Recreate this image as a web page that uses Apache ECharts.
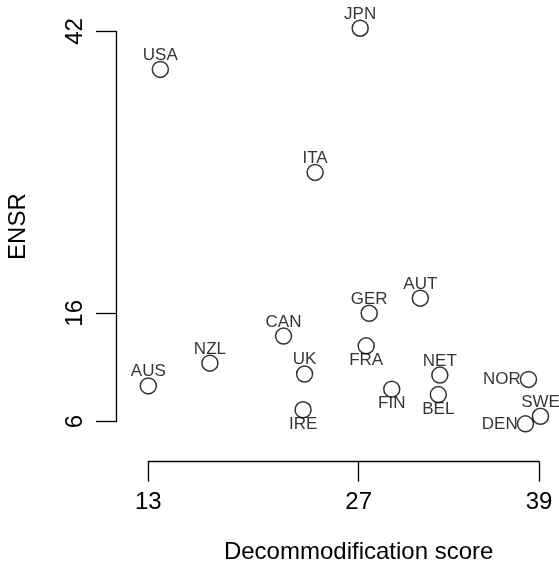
<!DOCTYPE html>
<html><head><meta charset="utf-8">
<script src="https://cdn.jsdelivr.net/npm/echarts@6/dist/echarts.min.js"></script>
<style>html,body{margin:0;padding:0;background:#fff}#c{width:559px;height:565px}</style>
</head><body><div id="c"></div>
<script>
const countries = ['USA','JPN','ITA','AUS','NZL','CAN','UK','IRE','AUT','GER','FRA','NET','FIN','BEL','NOR','SWE','DEN'];
const decommodification = [13.8, 27.1, 24.1, 13.0, 17.1, 22.0, 23.4, 23.3, 31.1, 27.7, 27.5, 32.4, 29.2, 32.3, 38.3, 39.1, 38.1];
const ensr = [38.5, 42.3, 29.0, 9.3, 11.4, 13.9, 10.4, 7.1, 17.4, 16.0, 13.0, 10.3, 9.0, 8.5, 9.9, 6.5, 5.8];
const xTicks = [13, 27, 39];
const yTicks = [6, 16, 42];
const belowLabels = ['IRE', 'FRA', 'FIN', 'BEL'];
const leftLabels = ['NOR', 'DEN'];

const font = '"Liberation Sans", Arial, Helvetica, sans-serif';
const chart = echarts.init(document.getElementById('c'), null, {renderer: 'canvas'});
const data = countries.map((c, i) => {
  let pos = 'top', dist = -3;
  if (belowLabels.includes(c)) { pos = 'bottom'; }
  if (leftLabels.includes(c)) { pos = 'left'; dist = -1; }
  return {name: c, value: [decommodification[i], ensr[i]], label: {position: pos, distance: dist}};
});
const lineStyle = {color: '#000', width: 1.3};
const option = {
  animation: false,
  grid: {left: 148.3, right: 20, top: 31.5, bottom: 143.3, containLabel: false, outerBoundsMode: 'none'},
  xAxis: {
    type: 'value', min: 13, max: 39, offset: 40,
    name: 'Decommodification score', nameLocation: 'middle', nameGap: 78.5,
    nameTextStyle: {fontSize: 24, fontFamily: font, color: '#000', padding: [0, 0, 0, 30]},
    axisLine: {show: true, onZero: false, lineStyle: lineStyle},
    axisTick: {show: true, length: 20, customValues: xTicks, lineStyle: lineStyle},
    axisLabel: {customValues: xTicks, margin: 29, fontSize: 24, fontFamily: font, color: '#000'},
    splitLine: {show: false}
  },
  yAxis: {
    type: 'value', min: 6, max: 42, offset: 32.3,
    name: 'ENSR', nameLocation: 'middle', nameGap: 86,
    nameTextStyle: {fontSize: 24, fontFamily: font, color: '#000'},
    axisLine: {show: true, onZero: false, lineStyle: lineStyle},
    axisTick: {show: true, length: 20, customValues: yTicks, lineStyle: lineStyle},
    axisLabel: {customValues: yTicks, margin: 29, rotate: 90, fontSize: 24, fontFamily: font, color: '#000'},
    splitLine: {show: false}
  },
  series: [{
    type: 'scatter', clip: false, symbol: 'circle', symbolSize: 16,
    itemStyle: {color: 'rgba(0,0,0,0)', borderColor: '#000', borderWidth: 1.5},
    label: {show: true, formatter: '{b}', fontSize: 17, fontFamily: font, color: '#000'},
    emphasis: {disabled: true},
    data: data
  }]
};
chart.setOption(option);
</script>
</body></html>
